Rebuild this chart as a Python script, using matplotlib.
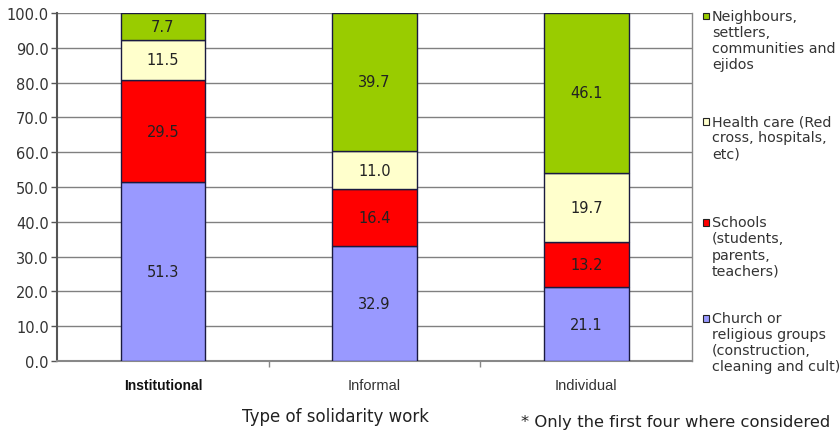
import numpy as np
import matplotlib.pyplot as plt
from matplotlib.patches import Rectangle

plt.rcParams['font.family'] = ['DejaVu Sans']

categories = ['Institutional', 'Informal', 'Individual']
church = [51.3, 32.9, 21.1]
schools = [29.5, 16.4, 13.2]
health = [11.5, 11.0, 19.7]
neighbours = [7.7, 39.7, 46.1]

series = [church, schools, health, neighbours]
colors = ['#9999ff', '#ff0000', '#ffffcc', '#99cc00']
labels = ['Church or\nreligious groups\n(construction,\ncleaning and cult)',
          'Schools\n(students,\nparents,\nteachers)',
          'Health care (Red\ncross, hospitals,\netc)',
          'Neighbours,\nsettlers,\ncommunities and\nejidos']

fig = plt.figure(figsize=(8.4, 4.35), dpi=100)
ax = fig.add_axes([0.068, 0.168, 0.756, 0.8])

x = np.arange(len(categories))
bottom = np.zeros(len(categories))
for vals, col in zip(series, colors):
    vals = np.array(vals)
    ax.bar(x, vals, width=0.4, bottom=bottom, color=col,
           edgecolor='#1a1a40', linewidth=1.0, zorder=3)
    for xi, b, v in zip(x, bottom, vals):
        ax.text(xi, b + v / 2, f'{v:.1f}', ha='center', va='center',
                fontsize=10.5, color='#222222', zorder=4)
    bottom += vals

ax.set_xlim(-0.5, 2.5)
ax.set_ylim(0, 100)
ax.set_yticks(np.arange(0, 101, 10))
ax.set_yticklabels([f'{v:.1f}' for v in np.arange(0, 101, 10)],
                   fontsize=10.5, color='#333333')
ax.yaxis.grid(True, color='#808080', linewidth=1.0, zorder=0)
ax.tick_params(axis='y', length=4, color='#555555', width=1, pad=2)

# category labels sit between boundary ticks
ax.set_xticks([0.5, 1.5])
ax.set_xticklabels([])
ax.tick_params(axis='x', length=4, color='#888888', width=1, direction='out')
for xi, name in zip(x, categories):
    if name == 'Institutional':
        ax.text(xi, -5.0, name, ha='center', va='top', fontsize=10,
                color='#111111', fontweight='bold', family='Liberation Sans')
    else:
        ax.text(xi, -5.0, name, ha='center', va='top', fontsize=10.5,
                color='#333333', family='Liberation Sans')

ax.spines['top'].set_visible(False)
ax.spines['left'].set_color('#555555')
ax.spines['left'].set_linewidth(1.5)
ax.spines['bottom'].set_color('#888888')
ax.spines['bottom'].set_linewidth(1.5)
ax.spines['right'].set_color('#888888')
ax.spines['right'].set_linewidth(1.0)

fig.text(0.399, 0.02, 'Type of solidarity work', ha='center', va='bottom',
         fontsize=12, color='#222222')
fig.text(0.620, 0.012, '* Only the first four where considered', ha='left',
         va='bottom', fontsize=11.8, color='#222222')

# legend entries, top to bottom
legend_y = [0.978, 0.735, 0.503, 0.283]
for lab, col, ly in zip(labels[::-1], colors[::-1], legend_y):
    fig.patches.append(Rectangle((0.8365, ly - 0.025), 0.0075, 0.0155,
                                 transform=fig.transFigure, facecolor=col,
                                 edgecolor='#222222', linewidth=0.8))
    fig.text(0.8475, ly, lab, ha='left', va='top', fontsize=10.3,
             color='#333333', linespacing=1.2)

fig.savefig('out.png', dpi=100)
